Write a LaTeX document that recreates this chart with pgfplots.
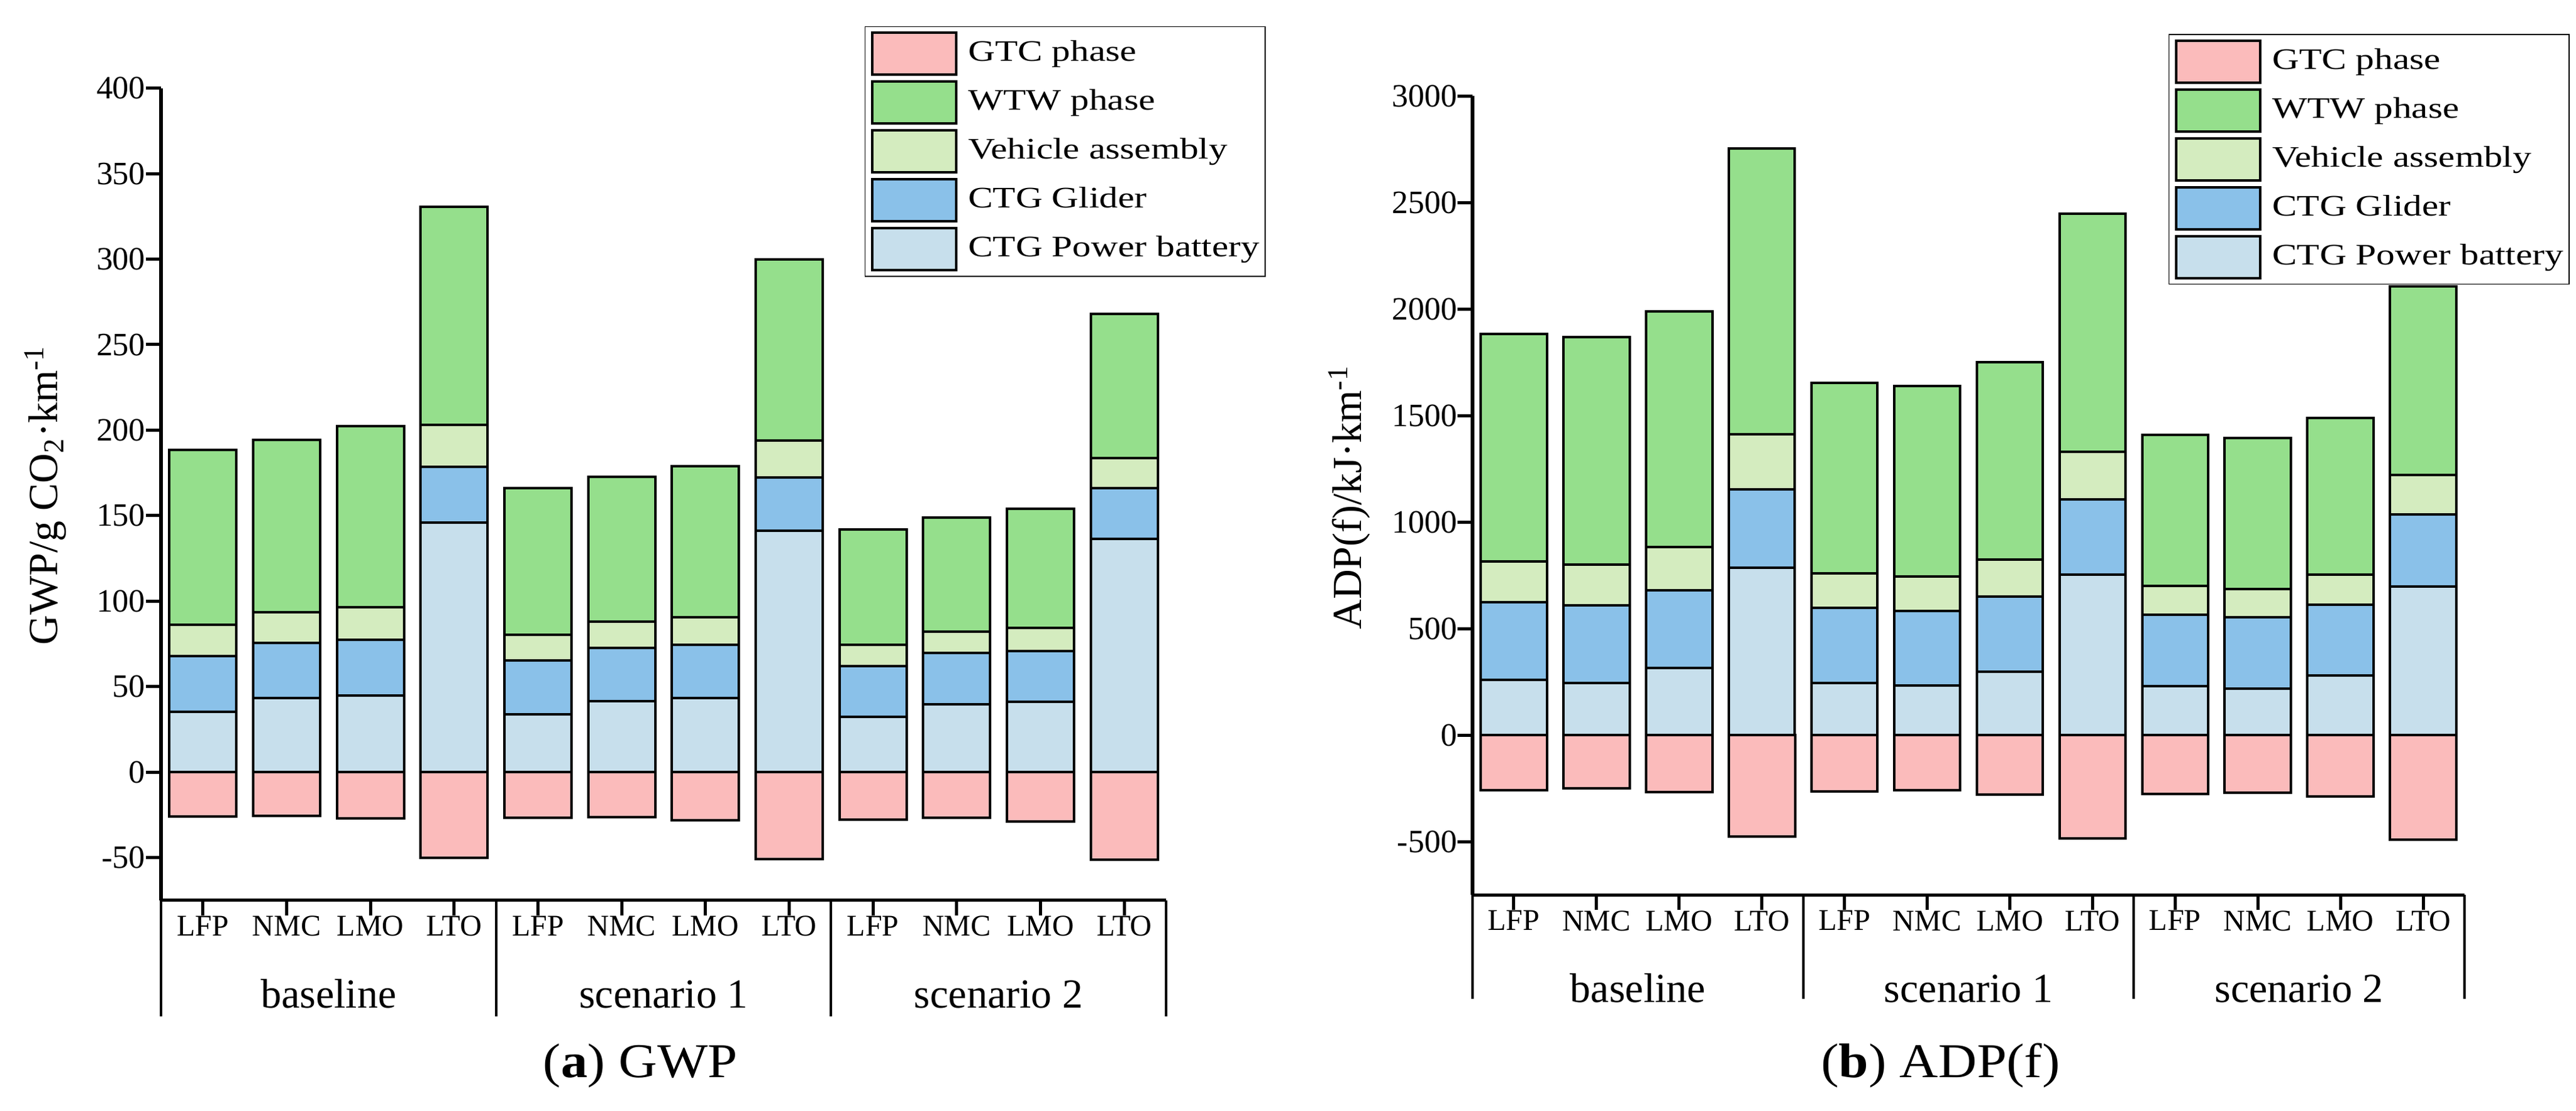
\documentclass[border=0pt]{standalone}
\usepackage{fontspec}
\setmainfont{Liberation Serif}
\newfontfamily\legfont[FakeStretch=1.25]{Liberation Serif}
\newfontfamily\capfont[FakeStretch=1.1]{Liberation Serif}
\usepackage{pgfplots}
\usepackage{pgfplotstable}
\pgfplotsset{compat=1.18}

\definecolor{gtc}{RGB}{251,187,187}
\definecolor{wtw}{RGB}{149,223,140}
\definecolor{veh}{RGB}{212,236,191}
\definecolor{gli}{RGB}{138,193,233}
\definecolor{bat}{RGB}{199,223,236}

% GWP (g CO2/km)
\pgfplotstableread{
x bat gli veh wtw gtc
0 35.3 32.6 18.1 102.3 -26.1
1 43.2 32.2 18.0 101.0 -25.7
2 44.7 32.8 18.8 106.1 -27.2
3 146.0 32.4 24.6 127.8 -50.1
4 33.8 31.6 15.0 85.6 -26.7
5 41.4 31.1 15.6 84.6 -26.3
6 43.2 31.2 16.0 88.4 -28.2
7 141.2 31.1 21.5 106.2 -50.8
8 32.4 29.6 12.6 67.2 -27.8
9 39.7 29.9 12.5 66.6 -26.9
10 40.9 29.7 13.6 69.8 -28.8
11 136.5 29.7 17.5 84.4 -51.4
}\gwp

% ADP(f) (kJ/km)
\pgfplotstableread{
x bat gli veh wtw gtc
0 260 364 190 1068 -257
1 245 366 190 1066 -250
2 317 364 201 1107 -267
3 786 369 258 1341 -474
4 245 354 160 894 -265
5 232 352 162 892 -259
6 299 352 172 927 -279
7 753 355 221 1117 -483
8 230 336 134 708 -274
9 219 335 132 708 -269
10 279 335 139 736 -286
11 698 339 184 884 -491
}\adp

\pgfplotsset{
  mylegend/.style={legend image code/.code={%
      \draw[##1,line width=0.9pt] (0pt,-4.3pt) rectangle (26.8pt,9.1pt);}},
  barsty/.style={draw=black, line width=0.8pt, mylegend},
  base/.style={
    scale only axis,
    anchor=south west,
    xmin=-0.5, xmax=11.5,
    axis x line*=bottom, axis y line*=left,
    axis line style={-, line width=1.1pt},
    xtick={0,...,11},
    xticklabels={LFP,NMC,LMO,LTO,LFP,NMC,LMO,LTO,LFP,NMC,LMO,LTO},
    tick align=outside,
    major tick length=4.8pt,
    every tick/.style={black, line width=1pt},
    extra x ticks={-0.5,3.5,7.5,11.5},
    extra x tick labels={},
    x tick label style={font=\fontsize{9.6}{10}\selectfont, inner sep=0pt, anchor=north},
    y tick label style={font=\fontsize{10.4}{11}\selectfont, inner sep=0pt, anchor=east},
    clip=false,
    ybar stacked,
    bar width=0.8,
    reverse legend,
    legend cell align=left,
    legend style={anchor=north west, draw=black, line width=0.3pt,
      font=\legfont\fontsize{9.5}{11}\selectfont,
      inner xsep=1.8pt, inner ysep=1.5pt, row sep=1.3pt,
      nodes={inner sep=0pt, anchor=base west},
      /tikz/every odd column/.append style={column sep=3.4pt}},
  },
  gtcax/.style={
    scale only axis, anchor=south west, hide axis,
    xmin=-0.5, xmax=11.5, clip=false,
  },
}

\begin{document}
\begin{tikzpicture}
\useasboundingbox (0,0) rectangle (822.2pt,354.4pt);

% ---------------- (a) GWP ----------------
\begin{axis}[gtcax, at={(51.4pt,67.06pt)}, width=320.8pt, height=259.2pt,
  ymin=-75, ymax=400]
\addplot[ybar, bar width=0.8, bar shift=0pt, fill=gtc, draw=black, line width=0.8pt]
  table[x=x,y=gtc]{\gwp};
\end{axis}

\begin{axis}[base, at={(51.4pt,67.06pt)}, width=320.8pt, height=259.2pt,
  ymin=-75, ymax=400,
  ytick={-50,0,50,100,150,200,250,300,350,400},
  yticklabels={-50,0,50,100,150,200,250,300,350,400},
  extra x tick style={major tick length=37pt, tick style={line width=0.8pt}},
  legend style={at={(rel axis cs:0.7001,1.0765)}}]
\addplot[barsty, fill=bat] table[x=x,y=bat]{\gwp};
\addlegendentry{CTG Power battery}
\addplot[barsty, fill=gli] table[x=x,y=gli]{\gwp};
\addlegendentry{CTG Glider}
\addplot[barsty, fill=veh] table[x=x,y=veh]{\gwp};
\addlegendentry{Vehicle assembly}
\addplot[barsty, fill=wtw] table[x=x,y=wtw]{\gwp};
\addlegendentry{WTW phase}
\addlegendimage{barsty, fill=gtc}
\addlegendentry{GTC phase}
\node[anchor=base, font=\fontsize{13.2}{14}\selectfont] at ([yshift=-34.3pt]axis cs:1.5,-75) {baseline};
\node[anchor=base, font=\fontsize{13.2}{14}\selectfont] at ([yshift=-34.3pt]axis cs:5.5,-75) {scenario 1};
\node[anchor=base, font=\fontsize{13.2}{14}\selectfont] at ([yshift=-34.3pt]axis cs:9.5,-75) {scenario 2};
\end{axis}

% ---------------- (b) ADP(f) ----------------
\begin{axis}[gtcax, at={(470pt,68.72pt)}, width=316.6pt, height=255.08pt,
  ymin=-750, ymax=3000]
\addplot[ybar, bar width=0.8, bar shift=0pt, fill=gtc, draw=black, line width=0.8pt]
  table[x=x,y=gtc]{\adp};
\end{axis}

\begin{axis}[base, at={(470pt,68.72pt)}, width=316.6pt, height=255.08pt,
  ymin=-750, ymax=3000,
  ytick={-500,0,500,1000,1500,2000,2500,3000},
  yticklabels={-500,0,500,1000,1500,2000,2500,3000},
  extra x tick style={major tick length=33.1pt, tick style={line width=0.8pt}},
  legend style={at={(rel axis cs:0.7018,1.0773)}}]
\addplot[barsty, fill=bat] table[x=x,y=bat]{\adp};
\addlegendentry{CTG Power battery}
\addplot[barsty, fill=gli] table[x=x,y=gli]{\adp};
\addlegendentry{CTG Glider}
\addplot[barsty, fill=veh] table[x=x,y=veh]{\adp};
\addlegendentry{Vehicle assembly}
\addplot[barsty, fill=wtw] table[x=x,y=wtw]{\adp};
\addlegendentry{WTW phase}
\addlegendimage{barsty, fill=gtc}
\addlegendentry{GTC phase}
\node[anchor=base, font=\fontsize{13.2}{14}\selectfont] at ([yshift=-34.2pt]axis cs:1.5,-750) {baseline};
\node[anchor=base, font=\fontsize{13.2}{14}\selectfont] at ([yshift=-34.2pt]axis cs:5.5,-750) {scenario 1};
\node[anchor=base, font=\fontsize{13.2}{14}\selectfont] at ([yshift=-34.2pt]axis cs:9.5,-750) {scenario 2};
\end{axis}

% y labels
\node[rotate=90, anchor=base, font=\fontsize{13.2}{14}\selectfont] at (18.3pt,196.4pt)
  {GWP/g CO\textsubscript{2}·km\textsuperscript{-1}};
\node[rotate=90, anchor=base, font=\fontsize{13.2}{14}\selectfont] at (434.4pt,195.7pt)
  {ADP(f)/kJ·km\textsuperscript{-1}};

% captions
\node[anchor=base, font=\capfont\fontsize{15.5}{17}\selectfont] at (204.4pt,10.6pt)
  {(\textbf{a}) GWP};
\node[anchor=base, font=\capfont\fontsize{15.5}{17}\selectfont] at (619.4pt,10.6pt)
  {(\textbf{b}) ADP(f)};
\end{tikzpicture}
\end{document}
